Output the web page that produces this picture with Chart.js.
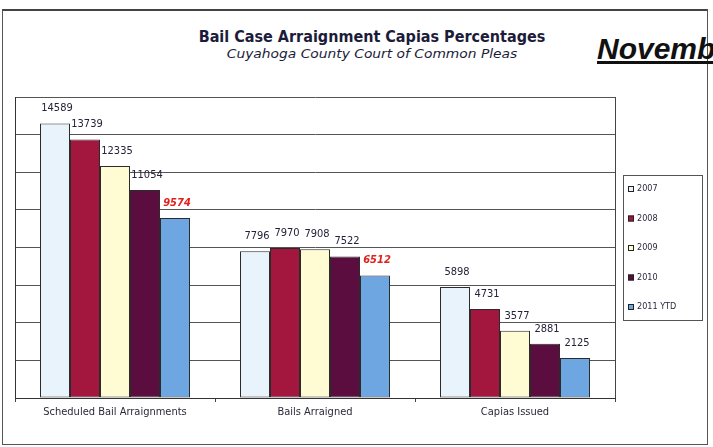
<!DOCTYPE html>
<html>
<head>
<meta charset="utf-8">
<script src="https://cdn.jsdelivr.net/npm/chart.js@4"></script>
<style>
  html, body { margin: 0; padding: 0; background: #fff; overflow: hidden; }
  .page { position: relative; width: 713px; height: 447px; }
  .frame { position: absolute; left: 2px; top: 9px; width: 704px; height: 433px; border: 1px solid #555; border-top: 2px solid #444; }
  .title { position: absolute; left: 0; width: 744px; text-align: center; color: #1c1c3a; }
  .t1 { top: 27px; font: bold 16px "Liberation Sans Narrow", "DejaVu Sans Condensed", sans-serif; }
  .t2 { top: 47px; font: italic 12px "Liberation Sans Narrow", "DejaVu Sans Condensed", sans-serif; transform: scaleX(1.28); transform-origin: 372px 0; }
  .month { position: absolute; left: 597px; top: 32px; font: italic bold 30px "Liberation Sans", Arial, sans-serif; color: #111; text-decoration: underline; white-space: nowrap; }
  canvas { position: absolute; left: 0; top: 0; }
</style>
</head>
<body>
<div class="page">
  <div class="frame"></div>
  <div class="title t1">Bail Case Arraignment Capias Percentages</div>
  <div class="title t2">Cuyahoga County Court of Common Pleas</div>
  <div class="month">November</div>
  <canvas id="bail-chart" width="713" height="447"></canvas>
</div>
<script>
"use strict";
const categories = ["Scheduled Bail Arraignments", "Bails Arraigned", "Capias Issued"];
const years = ["2007", "2008", "2009", "2010", "2011 YTD"];
const values2007 = [14589, 7796, 5898];
const values2008 = [13739, 7970, 4731];
const values2009 = [12335, 7908, 3577];
const values2010 = [11054, 7522, 2881];
const values2011 = [9574, 6512, 2125];
const yTicks = [0, 2000, 4000, 6000, 8000, 10000, 12000, 14000, 16000];

const fills = ["#e9f3fb", "#a3173f", "#fffbd2", "#5b0d40", "#6ea6e2"];
const labelFont = '"Liberation Sans Narrow", "DejaVu Sans Condensed", sans-serif';

// data labels over the bars, the 2011 ones in red italic
const barLabels = {
  id: "barLabels",
  afterDatasetsDraw(chart) {
    const ctx = chart.ctx;
    ctx.save();
    ctx.textAlign = "center";
    ctx.textBaseline = "middle";
    chart.data.datasets.forEach((ds, i) => {
      chart.getDatasetMeta(i).data.forEach((bar, j) => {
        const red = i === 4 && j < 2;
        ctx.font = (red ? "italic bold " : "") + "11px " + labelFont;
        ctx.fillStyle = red ? "#e0201c" : "#23233a";
        ctx.fillText(String(ds.data[j]), bar.x + 2, bar.y - 15);
      });
    });
    ctx.restore();
  },
};

// box round the plot and the legend on the right
const plotBox = {
  id: "plotBox",
  afterDraw(chart) {
    const ctx = chart.ctx;
    const a = chart.chartArea;
    ctx.save();
    ctx.strokeStyle = "#444";
    ctx.lineWidth = 1;
    ctx.beginPath();
    ctx.moveTo(Math.round(a.right) + 0.5, a.top);
    ctx.lineTo(Math.round(a.right) + 0.5, a.bottom);
    ctx.stroke();

    const lx = 623, ly = 175, lw = 79, lh = 145;
    ctx.strokeStyle = "#555";
    ctx.strokeRect(lx + 0.5, ly + 0.5, lw, lh);
    ctx.font = "9px " + labelFont;
    ctx.textBaseline = "middle";
    ctx.textAlign = "left";
    chart.data.datasets.forEach((ds, i) => {
      const y = ly + 14 + i * 29.5;
      ctx.fillStyle = ds.backgroundColor;
      ctx.fillRect(628, y - 3, 6, 6);
      ctx.strokeStyle = "#222";
      ctx.strokeRect(628.5, y - 2.5, 5, 5);
      ctx.fillStyle = "#2a2a40";
      ctx.fillText(ds.label, 637, y);
    });
    ctx.restore();
  },
};

const seriesValues = [values2007, values2008, values2009, values2010, values2011];

new Chart(document.querySelector("#bail-chart"), {
  type: "bar",
  data: {
    labels: categories,
    datasets: years.map((y, i) => ({
      label: y,
      data: seriesValues[i],
      backgroundColor: fills[i],
      borderColor: "#2b2b2b",
      borderWidth: 1,
      borderSkipped: false,
      categoryPercentage: 0.75,
      barPercentage: 1,
    })),
  },
  options: {
    responsive: false,
    animation: false,
    events: [],
    layout: { padding: { left: 15, right: 98, top: 97, bottom: 0 } },
    plugins: {
      legend: { display: false },
      title: { display: false },
      tooltip: { enabled: false },
    },
    scales: {
      x: {
        grid: { offset: true, drawOnChartArea: false, color: "#444", tickLength: 4 },
        border: { color: "#333" },
        ticks: {
          color: "#2a2a3a",
          padding: 4,
          font: { family: labelFont, size: 11 },
        },
        afterFit(scale) { scale.height = 49; },
      },
      y: {
        min: 0,
        max: 16000,
        afterBuildTicks(scale) { scale.ticks = yTicks.map((v) => ({ value: v })); },
        ticks: { display: false },
        grid: { color: "#555", lineWidth: 1, drawTicks: false },
        border: { color: "#333" },
        afterFit(scale) { scale.width = 0; },
      },
    },
  },
  plugins: [barLabels, plotBox],
});
</script>
</body>
</html>
